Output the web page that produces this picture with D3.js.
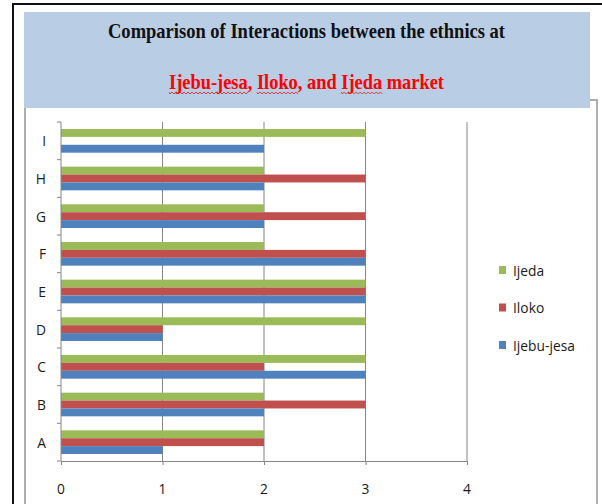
<!DOCTYPE html>
<html>
<head>
<meta charset="utf-8">
<script src="https://cdn.jsdelivr.net/npm/d3@7"></script>
<style>
body { margin: 0; background: #fff; }
svg { display: block; }
</style>
</head>
<body>
<script>
// chart data
var categories = ["A", "B", "C", "D", "E", "F", "G", "H", "I"]
var seriesNames = ["Ijeda", "Iloko", "Ijebu-jesa"]
var ijeda     = [2, 2, 3, 3, 3, 2, 2, 2, 3]
var iloko     = [2, 3, 2, 1, 3, 3, 3, 3, 0]
var ijebuJesa = [1, 2, 3, 1, 3, 3, 2, 2, 2]
var xTicks = [0, 1, 2, 3, 4]

var colours = {"Ijeda": "#9bbb59", "Iloko": "#c0504d", "Ijebu-jesa": "#4f81bd"}
var seriesValues = {"Ijeda": ijeda, "Iloko": iloko, "Ijebu-jesa": ijebuJesa}

var width = 602, height = 504
var svg = d3.select("body").append("svg")
	.attr("width", width)
	.attr("height", height)

/*frames and title box*/
svg.append("rect")
	.attr("x", 13).attr("y", 4)
	.attr("width", 620).attr("height", 540)
	.attr("fill", "none").attr("stroke", "#111").attr("stroke-width", 2)

svg.append("rect")
	.attr("x", 25).attr("y", 100)
	.attr("width", 572).attr("height", 440)
	.attr("fill", "#fff").attr("stroke", "#9a9a9a").attr("stroke-width", 1.6)

svg.append("rect")
	.attr("x", 24).attr("y", 12)
	.attr("width", 566).attr("height", 96)
	.attr("fill", "#b9cde5")

svg.append("text")
	.attr("x", 306.5).attr("y", 38)
	.attr("text-anchor", "middle")
	.attr("font-family", "Liberation Serif")
	.attr("font-weight", "bold")
	.attr("font-size", 21)
	.attr("fill", "#111")
	.attr("textLength", 397)
	.attr("lengthAdjust", "spacingAndGlyphs")
	.text("Comparison of Interactions between the ethnics at")

var sub = svg.append("text")
	.attr("x", 306.5).attr("y", 89)
	.attr("text-anchor", "middle")
	.attr("font-family", "Liberation Serif")
	.attr("font-weight", "bold")
	.attr("font-size", 21)
	.attr("fill", "#ff0000")
	.attr("textLength", 275)
	.attr("lengthAdjust", "spacingAndGlyphs")
	.text("Ijebu-jesa, Iloko, and Ijeda market")

// wavy spell-check underline under the place names
var subStr = "Ijebu-jesa, Iloko, and Ijeda market"
var subNode = sub.node()
var subLeft = 306.5 - 275 / 2
var fullLen = subNode.getComputedTextLength()
var k = 275 / fullLen
;["Ijebu-jesa", "Iloko", "Ijeda"].forEach(function(w){
	var i = subStr.indexOf(w)
	var x0 = subLeft + subNode.getSubStringLength(0, i) * k
	var x1 = x0 + subNode.getSubStringLength(i, w.length) * k
	var d = "M" + x0 + ",92"
	for (var x = x0; x < x1; x += 2) {
		d += "L" + (x + 1) + "," + ((Math.round((x - x0) / 2) % 2) ? 92 : 94)
	}
	svg.append("path").attr("d", d)
		.attr("fill", "none").attr("stroke", "#e02020").attr("stroke-width", 0.8)
})

/*scales*/
var xScale = d3.scaleLinear().domain([0, 4]).range([61, 467])
var yScale = d3.scaleBand().domain(categories).range([461, 122]).padding(0)
var step = yScale.step()
var pad = 7
var inner = d3.scaleBand().domain(seriesNames).range([pad, step - pad]).padding(0)

var grey = "#868686"

// vertical gridlines
svg.append("g").selectAll("line")
	.data(xTicks.slice(1))
	.enter().append("line")
	.attr("x1", function(d){ return xScale(d) })
	.attr("x2", function(d){ return xScale(d) })
	.attr("y1", 122).attr("y2", 461)
	.attr("stroke", grey).attr("stroke-width", 1)

// bars
var groups = svg.append("g").selectAll("g")
	.data(categories)
	.enter().append("g")
	.attr("transform", function(d){ return "translate(0," + yScale(d) + ")" })

groups.selectAll("rect")
	.data(function(c, ci){
		return seriesNames.map(function(s){ return {series: s, value: seriesValues[s][ci]} })
	})
	.enter().append("rect")
	.attr("x", xScale(0))
	.attr("y", function(d){ return inner(d.series) })
	.attr("width", function(d){ return xScale(d.value) - xScale(0) })
	.attr("height", inner.bandwidth())
	.attr("fill", function(d){ return colours[d.series] })

/*axes*/
var xAxis = d3.axisBottom(xScale).tickValues(xTicks).tickSize(4).tickFormat(d3.format("d"))
var gx = svg.append("g").attr("transform", "translate(0,461)").call(xAxis)
gx.select(".domain").attr("stroke", grey)
gx.selectAll(".tick line").attr("stroke", grey)
gx.selectAll(".tick text").remove()

var yAxisLine = svg.append("g")
yAxisLine.append("line")
	.attr("x1", 61).attr("x2", 61).attr("y1", 122).attr("y2", 461)
	.attr("stroke", grey)
yAxisLine.selectAll(".ytick")
	.data(categories.concat(["top"]))
	.enter().append("line")
	.attr("x1", 57).attr("x2", 61)
	.attr("y1", function(d){ return d === "top" ? 122 : yScale(d) + step })
	.attr("y2", function(d){ return d === "top" ? 122 : yScale(d) + step })
	.attr("stroke", grey)

// labels drawn a bit narrow like the source
function narrowText(x, y, txt, anchor){
	svg.append("g")
		.attr("transform", "translate(" + x + "," + y + ") scale(0.92,1)")
		.append("text")
		.attr("text-anchor", anchor)
		.attr("font-family", "Open Sans")
		.attr("font-size", 15)
		.attr("fill", "#1a1a1a")
		.text(txt)
}

xTicks.forEach(function(t){ narrowText(xScale(t), 494, String(t), "middle") })
categories.forEach(function(c){ narrowText(46, yScale(c) + step / 2 + 5.5, c, "end") })

/*legend*/
seriesNames.forEach(function(s, i){
	var ly = 270 + i * 37.5
	svg.append("rect")
		.attr("x", 499).attr("y", ly - 4)
		.attr("width", 7).attr("height", 8)
		.attr("fill", colours[s])
	narrowText(513, ly + 5.5, s, "start")
})
</script>
</body>
</html>
